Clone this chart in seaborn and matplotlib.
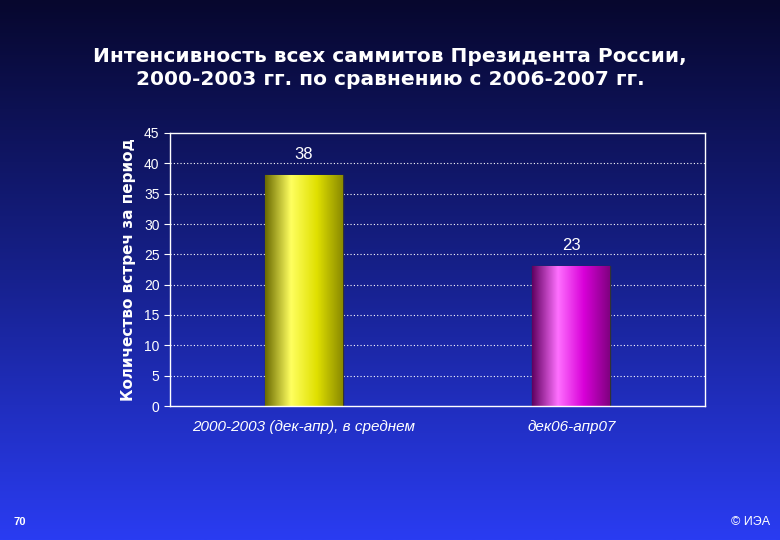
import numpy as np
import matplotlib
matplotlib.use("Agg")
import matplotlib.pyplot as plt
import seaborn as sns
import pandas as pd
from matplotlib.colors import LinearSegmentedColormap

categories = ["2000-2003 (дек-апр), в среднем", "дек06-апр07"]
values = [38, 23]
bar_colors = ["#e8e800", "#e000e0"]
yticks = [0, 5, 10, 15, 20, 25, 30, 35, 40, 45]

sns.set_style("white")
plt.rcParams["font.family"] = ["Liberation Sans", "DejaVu Sans"]

fig = plt.figure(figsize=(7.8, 5.4), dpi=100)
bg = fig.add_axes([0, 0, 1, 1], zorder=-10)
grad = np.linspace(0, 1, 256).reshape(-1, 1)
bgcmap = LinearSegmentedColormap.from_list("bg", ["#07072e", "#16208a", "#2a3cf2"])
bg.imshow(grad, aspect="auto", cmap=bgcmap, extent=[0, 1, 0, 1], origin="upper")
bg.axis("off")

ax = fig.add_axes([170/780, 1-406/540, 535/780, 273/540])
ax.patch.set_alpha(0)
df = pd.DataFrame({"cat": categories, "val": values})
sns.barplot(data=df, x="cat", y="val", hue="cat", palette=bar_colors, legend=False,
            width=0.29, edgecolor="#333333", linewidth=1, ax=ax)

dark = {"#e8e800": ["#6a6a00", "#ffff60", "#e0e000", "#8a8a00"],
        "#e000e0": ["#600060", "#ff70ff", "#d800d8", "#800080"]}
for p, c in zip(ax.patches, bar_colors):
    x0, y0 = p.get_x(), p.get_y()
    w, h = p.get_width(), p.get_height()
    cm = LinearSegmentedColormap.from_list("b", dark[c])
    im = ax.imshow(np.linspace(0, 1, 256).reshape(1, -1), cmap=cm, aspect="auto",
                   extent=[x0, x0 + w, y0, y0 + h], zorder=p.get_zorder() + 0.1)
    im.set_clip_path(p)
    ax.text(x0 + w / 2, h + 2.3, str(h if h % 1 else int(h)), ha="center", va="bottom",
            color="white", fontsize=12)

ax.set_xlim(-0.5, 1.5)
ax.set_ylim(0, 45)
ax.set_yticks(yticks)
ax.tick_params(axis="y", colors="white", labelsize=10, length=4, left=True)
ax.tick_params(axis="x", colors="white", length=0, pad=10)
for lab in ax.get_xticklabels():
    lab.set_fontstyle("italic"); lab.set_fontsize(11)
for t in yticks[1:-1]:
    ax.axhline(t, color="white", linestyle=(0, (1, 2)), linewidth=0.8, zorder=0)
for s in ax.spines.values():
    s.set_color("white"); s.set_linewidth(1)
ax.set_xlabel("")
ax.set_ylabel("Количество встреч за период", color="white", fontsize=11, fontweight="bold", labelpad=6,
              family="DejaVu Sans")

fig.text(0.5, 1-68/540, "Интенсивность всех саммитов Президента России,\n2000-2003 гг. по сравнению с 2006-2007 гг.",
         ha="center", va="center", color="white", fontsize=14.5, fontweight="bold", linespacing=1.25,
         family="DejaVu Sans")
fig.text(13/780, 1-522/540, "70", color="white", fontsize=8, fontweight="bold", va="center")
fig.text(770/780, 1-522/540, "© ИЭА", color="white", fontsize=9, ha="right", va="center")

fig.savefig("out.png", dpi=100)
